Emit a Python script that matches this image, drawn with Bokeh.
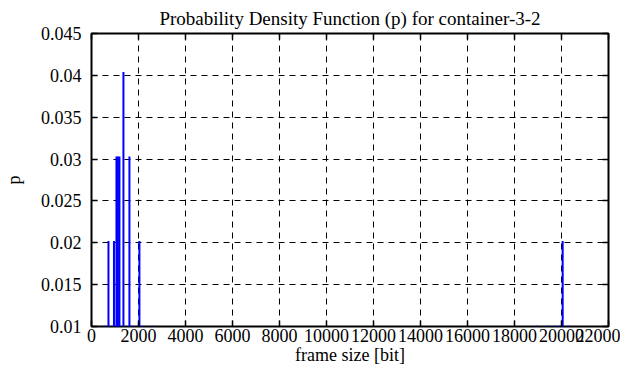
from bokeh.plotting import figure
from bokeh.models import LinearAxis, FixedTicker, Range1d
from bokeh.embed import file_html
from bokeh.resources import INLINE

# frame size [bit] of each impulse and its probability
frame_size = [552, 722, 956, 1062, 1125, 1189, 1359, 1614, 1741, 2039, 2166, 2591,
              18950, 19430, 19730, 19900, 20050, 20300]
prob = [1/99, 2/99, 2/99, 3/99, 3/99, 3/99, 4/99, 3/99, 1/99, 2/99, 1/99, 1/99,
        1/99, 1/99, 1/99, 1/99, 2/99, 1/99]

x_ticks = [0, 2000, 4000, 6000, 8000, 10000, 12000, 14000, 16000, 18000, 20000, 22000]
y_ticks = [0.01, 0.015, 0.02, 0.025, 0.03, 0.035, 0.04, 0.045]
y_tick_labels = ["0.01", "0.015", "0.02", "0.025", "0.03", "0.035", "0.04", "0.045"]

FONT = "Liberation Serif"

p = figure(width=620, height=371, output_backend="svg", toolbar_location=None,
           x_range=Range1d(0, 22000), y_range=Range1d(0.01, 0.045),
           title="Probability Density Function (p) for container-3-2",
           min_border_left=84, min_border_right=12, min_border_top=23, min_border_bottom=45)

p.title.align = "center"
p.title.text_font = FONT
p.title.text_font_style = "normal"
p.title.text_font_size = "19px"
p.title.text_color = "black"
p.title.offset = 0

p.outline_line_color = "black"
p.outline_line_width = 2
p.outline_line_alpha = 1

p.segment(x0=frame_size, y0=[0] * len(frame_size), x1=frame_size, y1=prob,
          line_color="#0000ff", line_width=2)

for ax in (p.xaxis[0], p.yaxis[0]):
    ax.major_tick_in = 6
    ax.major_tick_out = 0
    ax.minor_tick_line_color = None
    ax.major_tick_line_color = "black"
    ax.major_tick_line_width = 1.5
    ax.axis_line_color = None
    ax.major_label_text_font = FONT
    ax.major_label_text_font_size = "18px"
    ax.major_label_text_color = "black"
    ax.axis_label_text_font = FONT
    ax.axis_label_text_font_style = "normal"
    ax.axis_label_text_font_size = "18px"
    ax.axis_label_text_color = "black"

p.xaxis[0].ticker = FixedTicker(ticks=x_ticks)
p.xaxis[0].axis_label = "frame size [bit]"
p.xaxis[0].major_label_standoff = 2
p.xaxis[0].axis_label_standoff = 0

p.yaxis[0].ticker = FixedTicker(ticks=y_ticks)
p.yaxis[0].major_label_overrides = {t: l for t, l in zip(y_ticks, y_tick_labels)}
p.yaxis[0].axis_label = "p"
p.yaxis[0].major_label_standoff = 10
p.yaxis[0].axis_label_standoff = 14

for loc, ticks in (("right", y_ticks), ("above", x_ticks)):
    ax = LinearAxis(ticker=FixedTicker(ticks=ticks), major_tick_in=6, major_tick_out=0,
                    minor_tick_line_color=None, axis_line_color=None,
                    major_label_text_font_size="1px", major_label_text_color=None,
                    major_label_standoff=0, major_tick_line_width=1.5)
    p.add_layout(ax, loc)

p.xgrid.ticker = FixedTicker(ticks=x_ticks)
p.ygrid.ticker = FixedTicker(ticks=y_ticks)
for g in (p.xgrid[0], p.ygrid[0]):
    g.grid_line_color = "black"
    g.grid_line_dash = "6 5"
    g.grid_line_width = 1
    g.grid_line_alpha = 1

open("out.html", "w").write(file_html(p, INLINE))
